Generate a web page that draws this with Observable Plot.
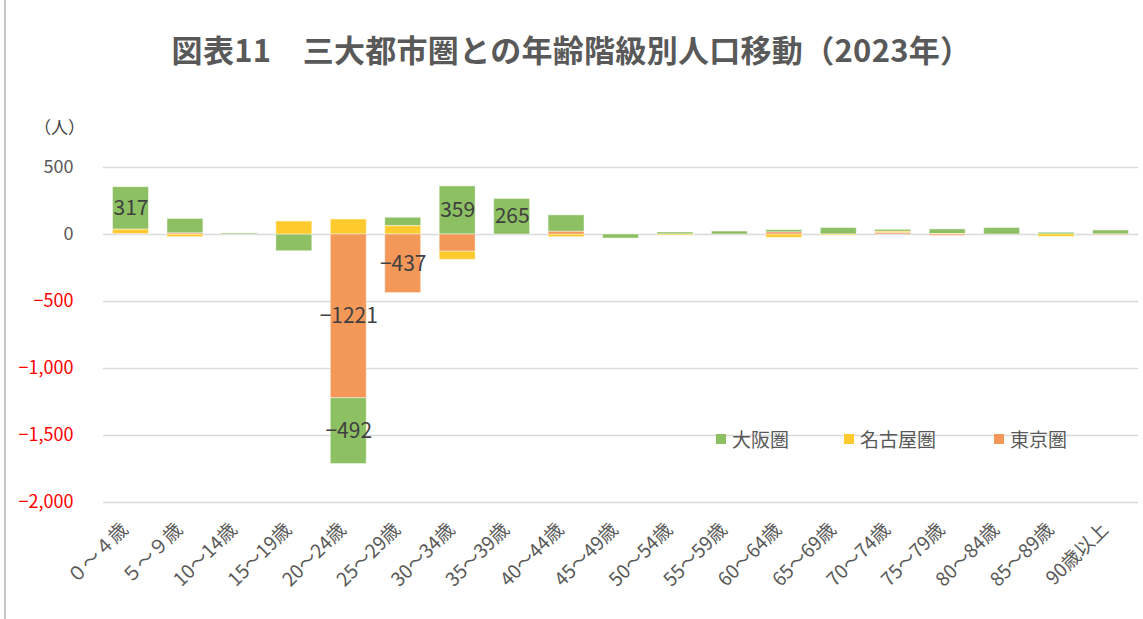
<!DOCTYPE html>
<html><head><meta charset="utf-8">
<script src="https://cdn.jsdelivr.net/npm/d3@7"></script>
<script src="https://cdn.jsdelivr.net/npm/@observablehq/plot@0.6"></script>
<style>
body{margin:0;background:#fff;font-family:"Noto Sans CJK JP","Noto Sans",sans-serif;}
#wrap{position:relative;width:1143px;height:619px;overflow:hidden;background:#fff;}
#border{position:absolute;left:4px;top:0;width:2px;height:619px;background:#c8c8c8;}
#title{height:100px;line-height:98px;text-align:center;font-size:31px;font-weight:bold;color:#595959;white-space:nowrap;letter-spacing:0.3px;}
#unit{position:absolute;left:34px;top:114px;font-size:17px;color:#404040;}
.leg{position:absolute;top:425px;font-size:19px;color:#595959;display:flex;align-items:center;white-space:nowrap;}
.leg span.sw{display:inline-block;width:10px;height:10px;margin-right:6px;}
#chart svg{display:block;}
</style></head>
<body>
<div id="wrap">
  <div id="border"></div>
  <div id="title">図表11　三大都市圏との年齢階級別人口移動（2023年）</div>
  <div id="unit">（人）</div>
  <div id="chart"></div>
  <div id="legend"></div>
</div>
<script>
const categories = ["０～４歳","５～９歳","10～14歳","15～19歳","20～24歳","25～29歳","30～34歳","35～39歳","40～44歳","45～49歳","50～54歳","55～59歳","60～64歳","65～69歳","70～74歳","75～79歳","80～84歳","85～89歳","90歳以上"];
const seriesNames = ["大阪圏","名古屋圏","東京圏"];
const seriesColors = ["#8DC063","#FFCA2E","#F4985A"];
const stackOrder = ["東京圏","名古屋圏","大阪圏"];
const osaka  = [317, 108, 8, -125, -492, 63, 359, 265, 123, -30, 15, 22, 18, 48, 15, 35, 48, 13, 30];
const nagoya = [33, -20, 0, 97, 112, 62, -62, 0, -20, 0, -8, 0, -25, -8, 10, 3, 0, -18, 0];
const tokyo  = [3, 8, 0, 0, -1221, -437, -127, 0, 20, 0, 0, 0, 15, 0, 10, -10, 0, 0, -5];
const yTicks = [500, 0, -500, -1000, -1500, -2000];
const labelThreshold = 200;

const seriesValues = {"大阪圏": osaka, "名古屋圏": nagoya, "東京圏": tokyo};
const data = [];
for (const s of seriesNames) categories.forEach((c, i) => data.push({cat: c, series: s, value: seriesValues[s][i]}));

const fmt = d => d < 0 ? "−" + d3.format(",")(-d) : d3.format(",")(d);
const lab = d => Math.abs(d.value) > labelThreshold ? (d.value < 0 ? "−" + (-d.value) : String(d.value)) : null;

const chart = Plot.plot({
  width: 1143, height: 519,
  marginTop: 67, marginBottom: 117, marginLeft: 103, marginRight: 5,
  style: {fontFamily: '"Noto Sans CJK JP","Noto Sans",sans-serif', background: "transparent"},
  x: {domain: categories, paddingInner: 0.34, paddingOuter: 0.175, round: false, label: null},
  y: {domain: [-2000, 500], label: null},
  color: {domain: seriesNames, range: seriesColors},
  marks: [
    Plot.ruleY(yTicks, {stroke: "#d9d9d9", strokeWidth: 1.5}),
    Plot.barY(data, Plot.stackY({x: "cat", y: "value", z: "series", fill: "series", order: stackOrder, stroke: "#ffffff", strokeOpacity: 0.45, strokeWidth: 1})),
    Plot.text(data, Plot.stackY({x: "cat", y: "value", z: "series", order: stackOrder, text: lab, fill: "#404040", fontSize: 21})),
    Plot.axisY(yTicks.filter(d => d >= 0), {tickSize: 0, tickPadding: 30, tickFormat: fmt, fill: "#595959", fontSize: 18}),
    Plot.axisY(yTicks.filter(d => d < 0), {tickSize: 0, tickPadding: 30, tickFormat: fmt, fill: "#ff0000", fontSize: 18}),
    Plot.axisX({tickSize: 0, tickPadding: 24, tickRotate: -45, fill: "#595959", fontSize: 19, dx: -6})
  ]
});
document.getElementById("chart").appendChild(chart);

const legendX = [716, 844, 994];
const legend = document.getElementById("legend");
seriesNames.forEach((s, i) => {
  const el = document.createElement("div");
  el.className = "leg";
  el.style.left = legendX[i] + "px";
  el.innerHTML = `<span class="sw" style="background:${seriesColors[i]}"></span>${s}`;
  legend.appendChild(el);
});
</script>
</body></html>
